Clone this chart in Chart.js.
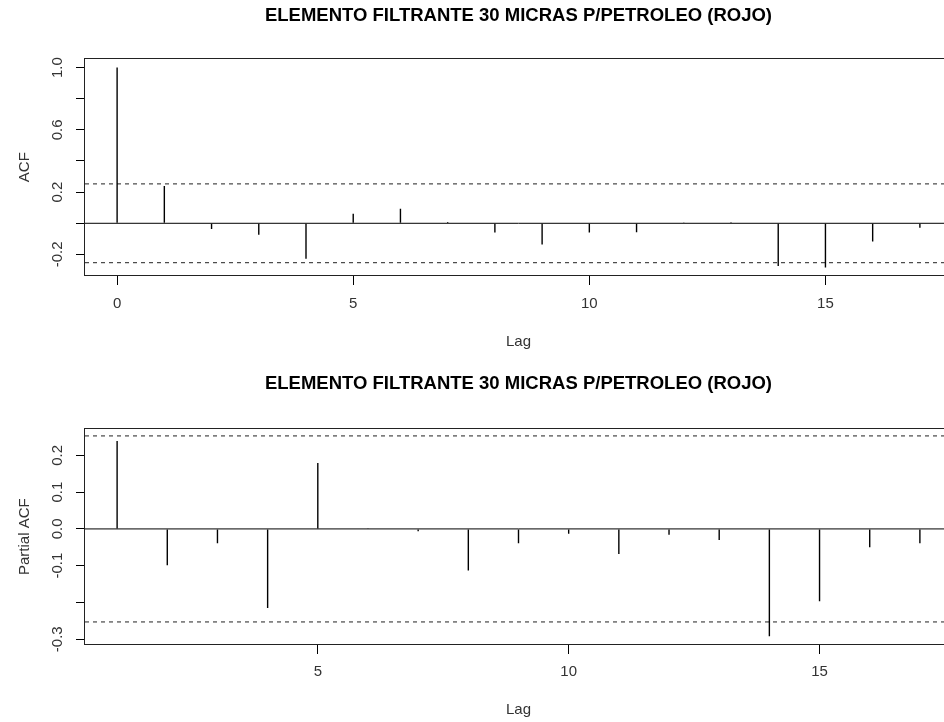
<!DOCTYPE html>
<html>
<head>
<meta charset="utf-8">
<script src="https://cdn.jsdelivr.net/npm/chart.js@4.4.1/dist/chart.umd.min.js"></script>
<style>
  html, body { margin: 0; padding: 0; background: #fff; overflow: hidden; }
  #page { position: relative; width: 944px; height: 722px; overflow: hidden; background: #fff; }
  canvas { position: absolute; left: 0; }
  #acf { top: 0; }
  #pacf { top: 368px; }
</style>
</head>
<body>
<div id="page">
  <canvas id="acf" width="995" height="369"></canvas>
  <canvas id="pacf" width="995" height="369"></canvas>
</div>
<script>
// Series name shown above both correlograms
const seriesTitle = 'ELEMENTO FILTRANTE 30 MICRAS P/PETROLEO (ROJO)';

// Autocorrelation by lag
const acfLags   = [0, 1, 2, 3, 4, 5, 6, 7, 8, 9, 10, 11, 12, 13, 14, 15, 16, 17];
const acfValues = [1.0, 0.239, -0.037, -0.074, -0.228, 0.061, 0.093, 0.008, -0.059,
                   -0.136, -0.059, -0.057, 0.002, 0.006, -0.275, -0.284, -0.117, -0.028];

// Partial autocorrelation by lag
const pacfLags   = [1, 2, 3, 4, 5, 6, 7, 8, 9, 10, 11, 12, 13, 14, 15, 16, 17];
const pacfValues = [0.239, -0.099, -0.039, -0.215, 0.179, 0.002, -0.006, -0.113, -0.039,
                    -0.013, -0.068, -0.016, -0.030, -0.292, -0.197, -0.050, -0.039];

// 95% significance bound (±1.96/sqrt(n))
const confLimit = 0.253;

// Axis ranges and tick marks
const acfXRange  = [-0.68, 17.68];
const acfYRange  = [-0.332, 1.053];
const acfXTicks  = [0, 5, 10, 15];
const acfYTicks  = [-0.2, 0.0, 0.2, 0.4, 0.6, 0.8, 1.0];
const acfYLabels = ['-0.2', '', '0.2', '', '0.6', '', '1.0'];

const pacfXRange  = [0.36, 17.64];
const pacfYRange  = [-0.313, 0.271];
const pacfXTicks  = [5, 10, 15];
const pacfYTicks  = [-0.3, -0.2, -0.1, 0.0, 0.1, 0.2];
const pacfYLabels = ['-0.3', '', '-0.1', '0.0', '0.1', '0.2'];

Chart.defaults.font.family = '"Liberation Sans", Arial, Helvetica, sans-serif';
Chart.defaults.font.size = 15;
Chart.defaults.color = '#333';

// Box around the plotting region
const plotFrame = {
  id: 'plotFrame',
  afterDraw(chart) {
    const a = chart.chartArea;
    const ctx = chart.ctx;
    ctx.save();
    ctx.strokeStyle = '#222';
    ctx.lineWidth = 1;
    const l = Math.round(a.left) - 0.5, t = Math.round(a.top) - 0.5;
    const r = Math.round(a.right) + 0.5, b = Math.round(a.bottom) + 0.5;
    ctx.strokeRect(l, t, r - l, b - t);
    ctx.restore();
  }
};

function correlogram(canvasId, spec) {
  const [xMin, xMax] = spec.xRange;
  const hLine = (y, dash, color) => ({
    type: 'line',
    data: [{ x: xMin, y: y }, { x: xMax, y: y }],
    borderColor: color,
    borderWidth: 1,
    borderDash: dash,
    pointRadius: 0,
    fill: false
  });

  return new Chart(document.getElementById(canvasId), {
    type: 'bar',
    data: {
      datasets: [
        {
          label: spec.yTitle,
          data: spec.lags.map((lag, i) => ({ x: lag, y: spec.values[i] })),
          backgroundColor: '#000',
          borderWidth: 0,
          barThickness: 1.4,
          inflateAmount: 0
        },
        hLine(0, [], '#000'),
        hLine(confLimit, [4, 4], '#222'),
        hLine(-confLimit, [4, 4], '#222')
      ]
    },
    options: {
      responsive: false,
      animation: false,
      devicePixelRatio: 1,
      layout: { padding: { left: 0, right: 43, top: 0, bottom: 0 } },
      plugins: {
        legend: { display: false },
        tooltip: { enabled: false },
        title: {
          display: true,
          text: seriesTitle,
          fullSize: false,
          color: '#000',
          font: { size: 18.5, weight: 'bold' },
          padding: { top: 4.4, bottom: spec.titleGap }
        }
      },
      scales: {
        x: {
          type: 'linear',
          min: xMin,
          max: xMax,
          offset: false,
          border: { display: false },
          grid: { display: true, offset: false, drawOnChartArea: false, drawTicks: true, tickLength: 10, color: '#000' },
          ticks: { autoSkip: false, maxRotation: 0, padding: spec.xTickPad, color: '#333', font: { size: 15 } },
          afterBuildTicks: (s) => { s.ticks = spec.xTicks.map(v => ({ value: v })); },
          afterFit: (s) => { s.height = spec.xAxisHeight; },
          title: { display: true, text: 'Lag', color: '#333', font: { size: 15 }, padding: { top: 0, bottom: spec.lagPad } }
        },
        y: {
          type: 'linear',
          min: spec.yRange[0],
          max: spec.yRange[1],
          border: { display: false },
          grid: { display: true, drawOnChartArea: false, drawTicks: true, tickLength: 9, color: '#000' },
          ticks: {
            autoSkip: false,
            minRotation: 90,
            maxRotation: 90,
            crossAlign: 'center',
            padding: 4.8,
            color: '#333',
            font: { size: 15 },
            callback: (value, index) => spec.yLabels[index]
          },
          afterBuildTicks: (s) => { s.ticks = spec.yTicks.map(v => ({ value: v })); },
          afterFit: (s) => { s.width = 85; },
          title: { display: true, text: spec.yTitle, color: '#333', font: { size: 15 }, padding: { top: 16, bottom: 0 } }
        }
      }
    },
    plugins: [plotFrame]
  });
}

correlogram('acf', {
  lags: acfLags, values: acfValues, yTitle: 'ACF',
  xRange: acfXRange, yRange: acfYRange,
  xTicks: acfXTicks, yTicks: acfYTicks, yLabels: acfYLabels,
  titleGap: 32.7, xAxisHeight: 94, xTickPad: 10.3, lagPad: 18.3
});

correlogram('pacf', {
  lags: pacfLags, values: pacfValues, yTitle: 'Partial ACF',
  xRange: pacfXRange, yRange: pacfYRange,
  xTicks: pacfXTicks, yTicks: pacfYTicks, yLabels: pacfYLabels,
  titleGap: 34.7, xAxisHeight: 93, xTickPad: 8.7, lagPad: 18
});
</script>
</body>
</html>
